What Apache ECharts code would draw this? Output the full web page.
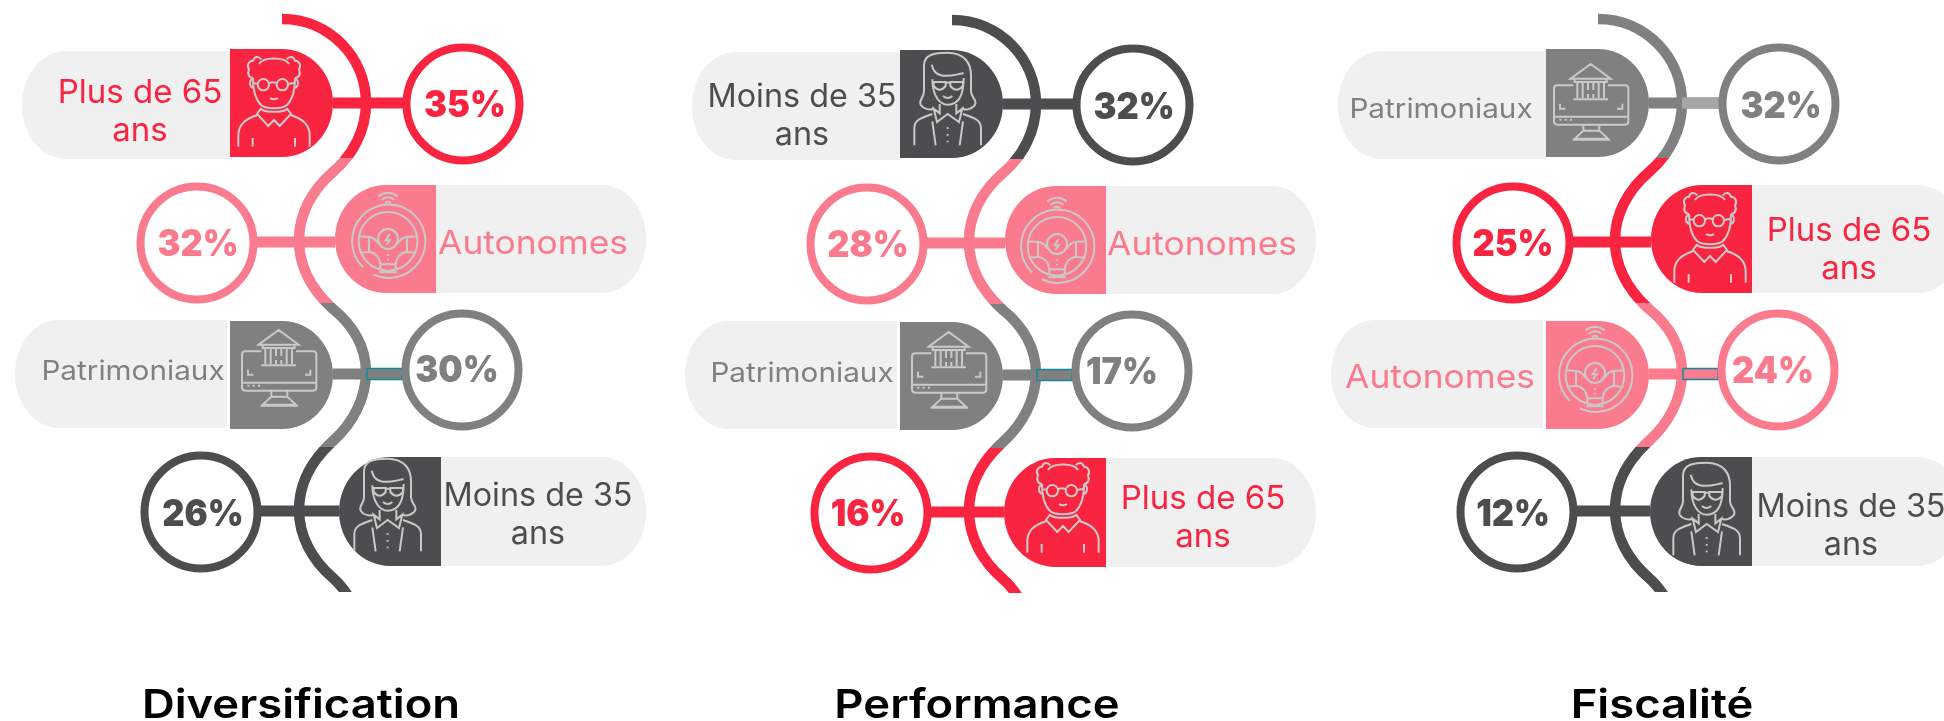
<!DOCTYPE html>
<html>
<head>
<meta charset="utf-8">
<script src="https://cdn.jsdelivr.net/npm/echarts@6/dist/echarts.min.js"></script>
<style>
  html, body { margin: 0; padding: 0; background: #fff; }
  #main { width: 1944px; height: 721px; overflow: hidden; }
</style>
</head>
<body>
<div id="main"></div>
<script>
var panelTitles = ["Diversification", "Performance", "Fiscalité"];
var diversificationNames = ["Plus de 65 ans", "Autonomes", "Patrimoniaux", "Moins de 35 ans"];
var diversificationValues = [35, 32, 30, 26];
var performanceNames = ["Moins de 35 ans", "Autonomes", "Patrimoniaux", "Plus de 65 ans"];
var performanceValues = [32, 28, 17, 16];
var fiscaliteNames = ["Patrimoniaux", "Plus de 65 ans", "Autonomes", "Moins de 35 ans"];
var fiscaliteValues = [32, 25, 24, 12];

var panelNames = [diversificationNames, performanceNames, fiscaliteNames];
var panelValues = [diversificationValues, performanceValues, fiscaliteValues];

// ---- layout of the infographic, page pixels ----
var panelDx = [0, 670, 1316];
var panelDy = [0, 1, 0];
var titleX = [301, 977, 1662];
var titleY = 706;

// same four rows in each panel (coords of the first panel)
var rows = [
  { side: "left",  top: 49,  bottom: 157, pillTop: 51,  pillBottom: 159, pillEnd: 22,  capA: 230, capB: 333, cx: 463, cy: 104, lineY: 103 },
  { side: "right", top: 185, bottom: 293, pillTop: 185, pillBottom: 293, pillEnd: 646, capA: 335, capB: 436, cx: 197, cy: 243, lineY: 242 },
  { side: "left",  top: 321, bottom: 429, pillTop: 320, pillBottom: 428, pillEnd: 15,  capA: 230, capB: 333, cx: 462, cy: 370, lineY: 374 },
  { side: "right", top: 457, bottom: 566, pillTop: 457, pillBottom: 566, pillEnd: 646, capA: 334, capB: 436, cx: 201, cy: 512, lineY: 511 }
];
var bands = [[0, 158], [158, 303], [303, 447], [447, 592]];
var spinePath = "M282 19 C330 19 366 58 366 103 C366 130 353 155 333 172 C312 190 299 214 299 240 " +
  "C299 266 312 290 333 309 C353 325 366 347 366 372 C366 398 353 423 333 441 " +
  "C312 460 299 484 299 510 C299 536 312 560 333 578 C340 584 346 592 352 602";

// page position of label centre, per panel and row
var labelPos = [
  [[140, 112], [533, 244], [133, 372], [538, 515]],
  [[802, 116], [1202, 245], [802, 374], [1203, 518]],
  [[1441, 110], [1849, 250], [1440, 378], [1851, 526]]
];
var iconPos = [
  [[274, 102], [388, 235], [279, 368], [388, 505]],
  [[948, 99], [1057, 240], [949, 370], [1063, 508]],
  [[1591, 102], [1710, 238], [1595, 369], [1707, 509]]
];
var valuePos = [
  [[465, 106], [198, 245], [457, 371], [203, 515]],
  [[1134, 108], [868, 246], [1122, 373], [868, 515]],
  [[1781, 107], [1513, 245], [1773, 372], [1513, 515]]
];

// panel 1 row 4 cap sits a bit further right
var capShift = [[0, 0, 0, 5], [0, 0, 0, 0], [0, 0, 0, 0]];
// right hand stub of the connector: "teal" outlined on third row, lighter on Fiscalité first row
var stubs = [
  [null, null, "teal", null],
  [null, null, "teal", null],
  ["light", null, "teal", null]
];

var colors = {
  "Plus de 65 ans": "#f82440",
  "Autonomes": "#fa7a8e",
  "Patrimoniaux": "#808080",
  "Moins de 35 ans": "#4d4d4f"
};
var labelSizes = { "Plus de 65 ans": 33, "Autonomes": 33, "Patrimoniaux": 27, "Moins de 35 ans": 32 };
var labelStretch = { "Plus de 65 ans": 1.0, "Autonomes": 1.07, "Patrimoniaux": 1.1, "Moins de 35 ans": 1.01 };
var pillColor = "#f0f0f0";
var iconColor = "#c9c9c9";
var tealColor = "#14899c";
var lightStub = "#a6a6a6";

// icons, drawn in a 3x grid, [centreX, centreY, path]
var icons = {
  "Plus de 65 ans": [163, 190,
    "M125 62 C115 50 104 54 100 66 C88 66 80 80 88 92 C82 105 88 118 100 118 " +
    "M201 62 C211 50 222 54 226 66 C238 66 246 80 238 92 C244 105 238 118 226 118 " +
    "M118 76 C130 54 196 54 208 76 " +
    "M100 118 C100 150 106 182 125 200 C140 212 186 212 201 200 C220 182 226 150 226 118 " +
    "M99 122 C88 122 88 146 102 148 M227 122 C238 122 238 146 224 148 " +
    "M148 138 A17 17 0 1 1 114 138 A17 17 0 1 1 148 138 M205 138 A17 17 0 1 1 171 138 A17 17 0 1 1 205 138 " +
    "M148 134 Q160 128 171 134 M114 136 L100 132 M205 136 L226 132 " +
    "M151 178 Q163 186 175 178 " +
    "M125 208 L112 226 L146 262 L163 244 L180 262 L214 226 L201 208 M125 212 C140 222 186 222 201 212 " +
    "M112 230 C78 240 56 258 56 290 V324 M214 230 C248 240 270 258 270 290 V324 " +
    "M99 298 V324 M226 298 V324"],
  "Autonomes": [175, 178,
    "M146 62 Q175 40 204 62 M156 72 Q175 57 194 72 M166 82 Q175 75 184 82 " +
    "M100 275 A110 110 0 1 1 130 296 " +
    "M263 197 A88 88 0 1 1 87 197 A88 88 0 1 1 263 197 " +
    "M205 190 A30 30 0 1 1 145 190 A30 30 0 1 1 205 190 " +
    "M180 175 L168 194 H180 L170 208 " +
    "M90 182 L122 184 C132 186 140 194 146 204 M90 232 L120 228 C138 232 150 246 152 266 " +
    "M260 182 L228 184 C218 186 210 194 204 204 M260 232 L230 228 C212 232 200 246 198 266 " +
    "M118 184 V228 M232 184 V228 " +
    "M152 266 H198 V290 H152 Z M175 236 V240 M175 250 V254"],
  "Patrimoniaux": [161, 160,
    "M108 110 H60 Q50 110 50 120 V218 Q50 228 60 228 H263 Q273 228 273 218 V120 Q273 110 263 110 H212 " +
    "M100 90 L160 46 L220 90 Z M112 90 V100 H208 V90 " +
    "M120 100 V148 M136 100 V148 M152 100 V124 M152 136 V148 M168 100 V124 M168 136 V148 M184 100 V148 M200 100 V148 " +
    "M108 152 H212 " +
    "M68 165 V180 H84 M255 165 V180 H239 " +
    "M50 204 H273 M66 213 H72 M82 213 H88 M98 213 H104 " +
    "M138 228 V246 L112 270 H212 L186 246 V228 M138 246 H186 M106 273 H218"],
  "Moins de 35 ans": [147, 163,
    "M75 140 V62 C75 28 110 24 145 24 C200 24 216 60 216 92 V140 C216 160 236 166 228 180 C222 192 202 198 190 192 " +
    "M75 140 C75 160 58 166 65 180 C72 192 92 198 105 192 " +
    "M100 104 C100 156 124 180 146 180 C176 180 194 156 194 100 " +
    "M98 60 C104 82 112 88 126 92 C150 98 176 88 194 86 " +
    "M104 112 H140 V124 Q122 146 104 124 Z M154 112 H192 V124 Q172 146 154 124 Z M140 114 H154 " +
    "M132 154 Q146 166 160 154 " +
    "M122 178 V206 L104 192 L114 232 L146 208 L180 232 L190 192 L172 206 V178 " +
    "M100 208 C66 220 46 226 46 250 V302 M192 208 C226 220 246 226 246 250 V302 " +
    "M100 230 L110 302 M192 230 L182 302 M146 248 V253 M146 268 V273 M146 288 V293"]
};

function capPath(a, b, top, bottom, side, rx) {
  var ry = (bottom - top) / 2;
  if (side === "left") {
    // flat on a, rounded on b
    return "M" + a + " " + top + " H" + (b - rx) + " A" + rx + " " + ry + " 0 0 1 " + b + " " + (top + ry) +
      " A" + rx + " " + ry + " 0 0 1 " + (b - rx) + " " + bottom + " H" + a + " Z";
  }
  // flat on b, rounded on a
  return "M" + b + " " + top + " H" + (a + rx) + " A" + rx + " " + ry + " 0 0 0 " + a + " " + (top + ry) +
    " A" + rx + " " + ry + " 0 0 0 " + (a + rx) + " " + bottom + " H" + b + " Z";
}

function makeRenderItem(p) {
  return function (params, api) {
    var r = api.value(0);
    var value = api.value(1);
    var row = rows[r];
    var name = panelNames[p][r];
    var color = colors[name];
    var origin = api.coord([panelDx[p], panelDy[p]]);
    var shift = capShift[p][r];
    var a = row.capA + shift;
    var b = row.capB + shift;
    var kids = [];

    // spine, only the band of this row
    kids.push({
      type: "path",
      shape: { pathData: spinePath },
      style: { fill: "none", stroke: color, lineWidth: 10.5 },
      clipPath: { type: "rect", shape: { x: 0, y: bands[r][0], width: 700, height: bands[r][1] - bands[r][0] } }
    });

    // pill behind the cap
    if (row.side === "left") {
      kids.push({
        type: "path",
        shape: { pathData: capPath(row.pillEnd, a, row.pillTop, row.pillBottom, "right", 44) },
        style: { fill: pillColor }
      });
      if (r === 2) {
        kids.push({ type: "rect", shape: { x: a - 3, y: row.pillTop, width: 3, height: row.pillBottom - row.pillTop + 1 }, style: { fill: "#fff" } });
      }
    } else {
      kids.push({
        type: "path",
        shape: { pathData: capPath(b, row.pillEnd, row.pillTop, row.pillBottom, "left", 44) },
        style: { fill: pillColor }
      });
    }
    kids.push({
      type: "path",
      shape: { pathData: capPath(a, b, row.top, row.bottom, row.side, 51) },
      style: { fill: color }
    });

    // connector from the cap to the ring
    var stub = stubs[p][r];
    var ringInner = row.side === "left" ? row.cx - 58 : row.cx + 58;
    var capEdge = row.side === "left" ? b : a;
    kids.push({
      type: "rect",
      shape: { x: Math.min(capEdge, ringInner), y: row.lineY - 5.5, width: Math.abs(ringInner - capEdge), height: 11 },
      style: { fill: color }
    });
    if (stub === "teal") {
      kids.push({
        type: "rect",
        shape: { x: 367, y: row.lineY - 5.5, width: row.cx - 60 - 367, height: 11 },
        style: { fill: color, stroke: tealColor, lineWidth: 1.5 }
      });
    }
    if (stub === "light") {
      kids.push({
        type: "rect",
        shape: { x: 366, y: row.lineY - 5.5, width: row.cx - 58 - 366, height: 11 },
        style: { fill: lightStub }
      });
    }

    // ring
    kids.push({
      type: "circle",
      shape: { cx: row.cx, cy: row.cy, r: 56.5 },
      style: { fill: "#fff", stroke: color, lineWidth: 8 }
    });

    var group = { type: "group", x: origin[0], y: origin[1], children: kids };

    // page positioned parts
    var vp = api.coord(valuePos[p][r]);
    var lp = api.coord(labelPos[p][r]);
    var ip = api.coord(iconPos[p][r]);
    var icon = icons[name];

    return {
      type: "group",
      children: [
        group,
        {
          type: "path",
          x: ip[0] - icon[0] / 3,
          y: ip[1] - icon[1] / 3,
          scaleX: 1 / 3,
          scaleY: 1 / 3,
          shape: { pathData: icon[2] },
          style: { fill: "none", stroke: iconColor, lineWidth: 6 }
        },
        {
          type: "text",
          x: lp[0],
          y: lp[1],
          scaleX: labelStretch[name],
          style: {
            x: 0, y: 0,
            text: name.replace(" ans", "\nans"),
            textAlign: "center", textVerticalAlign: "middle",
            fontFamily: "Inter, sans-serif", fontWeight: 400,
            fontSize: labelSizes[name], lineHeight: 38,
            fill: color
          }
        },
        {
          type: "text",
          x: vp[0],
          y: vp[1],
          scaleX: 0.93,
          style: {
            x: 0, y: 0,
            text: value + "%",
            textAlign: "center", textVerticalAlign: "middle",
            fontFamily: "Inter, sans-serif", fontWeight: 900,
            fontSize: 37,
            fill: color
          }
        }
      ]
    };
  };
}

var chart = echarts.init(document.getElementById("main"), null, { renderer: "canvas" });

var series = panelValues.map(function (values, p) {
  return {
    type: "custom",
    coordinateSystem: "cartesian2d",
    animation: false,
    silent: true,
    clip: false,
    renderItem: makeRenderItem(p),
    data: values.map(function (v, i) { return [i, v]; })
  };
});

chart.setOption({
  animation: false,
  backgroundColor: "#fff",
  grid: { left: 0, right: 0, top: 0, bottom: 0 },
  xAxis: { type: "value", min: 0, max: 1944, show: false },
  yAxis: { type: "value", min: 0, max: 721, inverse: true, show: false },
  graphic: panelTitles.map(function (t, i) {
    return {
      type: "text",
      x: titleX[i],
      y: titleY,
      scaleX: 1.135,
      style: {
        x: 0, y: 0,
        text: t,
        textAlign: "center", textVerticalAlign: "middle",
        fontFamily: "Inter, sans-serif", fontWeight: 600, fontSize: 40, fill: "#000"
      }
    };
  }),
  series: series
});
</script>
</body>
</html>
